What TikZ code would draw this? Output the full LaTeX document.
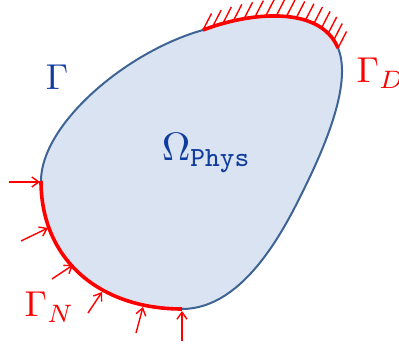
\documentclass[tikz,border=0pt]{standalone}
\usetikzlibrary{arrows.meta}
\definecolor{fillblue}{RGB}{218,227,241}
\definecolor{lineblue}{RGB}{62,100,150}
\definecolor{textblue}{RGB}{16,60,160}
\begin{document}
\begin{tikzpicture}[x=1pt,y=-1pt,
 bnd/.style={draw=lineblue,line width=2pt},
 bcred/.style={draw=red,line width=3.6pt},
 hatch/.style={red,line width=1.4pt},
 load/.style={red,line width=1.4pt,-{Straight Barb[length=7pt,width=10pt]}},
 lbl/.style={scale=3.6,inner sep=0pt}]
\useasboundingbox (0,0) rectangle (399,344);
\coordinate (B) at (182,309);
\coordinate (L) at (41,181);
\coordinate (T1) at (203,30);
\coordinate (T2) at (338,48);
\coordinate (R) at (305,187);
\fill[fillblue] (B) .. controls (100,309) and (41,260) .. (L) .. controls (41,125) and (125,52) .. (T1) .. controls (250,12) and (320,5) .. (T2) .. controls (350,77) and (334,128) .. (R) .. controls (286,226) and (245,309) .. (B) -- cycle;
\draw[bnd] (L) .. controls (41,125) and (125,52) .. (T1);
\draw[bnd] (T2) .. controls (350,77) and (334,128) .. (R) .. controls (286,226) and (245,309) .. (B);
\draw[bcred] (B) .. controls (100,309) and (41,260) .. (L);
\draw[bcred] (T1) .. controls (250,12) and (320,5) .. (T2)
  coordinate[pos=0] (h0) coordinate[pos=0.0667] (h1) coordinate[pos=0.1333] (h2)
  coordinate[pos=0.2] (h3) coordinate[pos=0.2667] (h4) coordinate[pos=0.3333] (h5)
  coordinate[pos=0.4] (h6) coordinate[pos=0.4667] (h7) coordinate[pos=0.5333] (h8)
  coordinate[pos=0.6] (h9) coordinate[pos=0.6667] (h10) coordinate[pos=0.7333] (h11)
  coordinate[pos=0.8] (h12) coordinate[pos=0.8667] (h13) coordinate[pos=0.9333] (h14)
  coordinate[pos=1] (h15);
\foreach \i in {0,...,15} \draw[hatch] (h\i) -- ++(8.5,-16.5);
% Neumann loads
\coordinate (n1) at (40,182);  \coordinate (t1) at (9,182);
\coordinate (n2) at (48,228);  \coordinate (t2) at (21,241);
\coordinate (n3) at (73,265);  \coordinate (t3) at (52,279);
\coordinate (n4) at (102,292); \coordinate (t4) at (88,313);
\coordinate (n5) at (143,307); \coordinate (t5) at (136,333);
\coordinate (n6) at (182,311); \coordinate (t6) at (182,341);
\foreach \i in {1,...,6} \draw[load] (t\i) -- (n\i);
% labels
\node[lbl,text=textblue] (G) at (57,77) {$\Gamma$};
\node[lbl,scale=1.1,text=textblue,anchor=base west] (Om) at (161,161) {$\Omega_{\mathtt{Phys}}$};
\node[lbl,text=red,anchor=base west] (GD) at (356,83) {$\Gamma_D$};
\node[lbl,text=red,anchor=base west] (GN) at (24,317) {$\Gamma_N$};
\end{tikzpicture}
\end{document}
